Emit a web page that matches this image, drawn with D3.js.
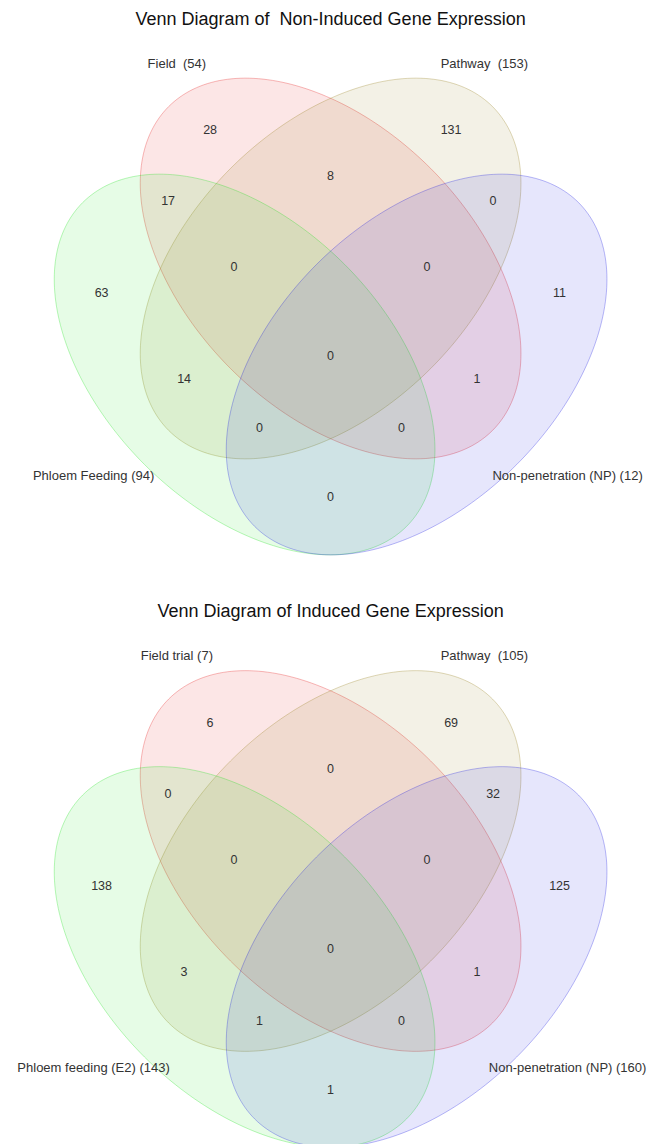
<!DOCTYPE html>
<html>
<head>
<meta charset="utf-8">
<script src="https://cdn.jsdelivr.net/npm/d3@7"></script>
<style>
  body { margin: 0; background: #fff; }
  svg text { font-family: "Liberation Sans", Arial, sans-serif; white-space: pre; }
</style>
</head>
<body>
<div id="chart"></div>
<script>
// Region keys: A = Field (red), B = Pathway (olive), C = Phloem feeding (green), D = Non-penetration (blue)
const regionKeys = ["A", "B", "C", "D", "AB", "AC", "BD", "ABC", "ABD", "ABCD", "BC", "AD", "BCD", "ACD", "CD"];

const titles = ["Venn Diagram of  Non-Induced Gene Expression", "Venn Diagram of Induced Gene Expression"];

const nonInducedLabels = ["Field  (54)", "Pathway  (153)", "Phloem Feeding (94)", "Non-penetration (NP) (12)"];
const nonInducedCounts = [28, 131, 63, 11, 8, 17, 0, 0, 0, 0, 14, 1, 0, 0, 0];

const inducedLabels = ["Field trial (7)", "Pathway  (105)", "Phloem feeding (E2) (143)", "Non-penetration (NP) (160)"];
const inducedCounts = [6, 69, 138, 125, 0, 0, 32, 0, 0, 0, 3, 1, 1, 0, 1];

const setColors = ["#e61919", "#967d19", "#19e119", "#1919e1"];

(function() {
    const width = 652, height = 1144;

    const svg = d3.select('#chart')
        .append('svg')
        .attr('width', width)
        .attr('height', height);

    svg.append('rect')
        .attr('width', width)
        .attr('height', height)
        .attr('fill', '#fff');

    // ellipse layout in unit coordinates (cx, cy, semi-major, semi-minor, rotation in degrees)
    const ellipses = [
        {cx: 0.500, cy: 0.417, a: 0.458, b: 0.283, rot: 45},   // Field
        {cx: 0.500, cy: 0.417, a: 0.458, b: 0.283, rot: -45},  // Pathway
        {cx: 0.328, cy: 0.609, a: 0.458, b: 0.283, rot: 45},   // Phloem
        {cx: 0.672, cy: 0.609, a: 0.458, b: 0.283, rot: -45}   // NP
    ];

    // where each region's count sits (unit coordinates)
    const regionPos = {
        A: [0.259, 0.140], B: [0.741, 0.140],
        AB: [0.500, 0.232],
        AC: [0.175, 0.282], BD: [0.825, 0.282],
        ABC: [0.307, 0.414], ABD: [0.693, 0.414],
        C: [0.042, 0.466], D: [0.958, 0.466],
        ABCD: [0.500, 0.592],
        BC: [0.207, 0.638], AD: [0.793, 0.638],
        BCD: [0.358, 0.736], ACD: [0.642, 0.736],
        CD: [0.500, 0.874]
    };

    const catPos = [[0.1925, 0.006], [0.8075, 0.006], [0.026, 0.830], [0.974, 0.830]];

    const panels = [
        {title: titles[0], labels: nonInducedLabels, counts: nonInducedCounts, titleY: 19, top: 60},
        {title: titles[1], labels: inducedLabels, counts: inducedCounts, titleY: 610.5, top: 652.5}
    ];

    panels.forEach(p => drawVenn(p));

    function ellipsePoints(e) {
        const th = e.rot * Math.PI / 180;
        const pts = [];
        for (let i = 0; i < 240; i++) {
            const t = i / 240 * 2 * Math.PI;
            pts.push([
                e.cx + e.a * Math.cos(t) * Math.cos(th) - e.b * Math.sin(t) * Math.sin(th),
                e.cy + e.a * Math.cos(t) * Math.sin(th) + e.b * Math.sin(t) * Math.cos(th)
            ]);
        }
        return pts;
    }

    function drawVenn(p) {
        const x = d3.scaleLinear().domain([0, 1]).range([80.6, 580.6]);
        const y = d3.scaleLinear().domain([0, 1]).range([p.top, p.top + 500]);

        const g = svg.append('g');

        const line = d3.line()
            .x(d => x(d[0]))
            .y(d => y(d[1]))
            .curve(d3.curveLinearClosed);

        // Ellipses
        g.selectAll('path.set')
            .data(ellipses)
            .enter()
            .append('path')
            .attr('class', 'set')
            .attr('d', e => line(ellipsePoints(e)))
            .attr('fill', (d, i) => setColors[i])
            .attr('fill-opacity', 0.11)
            .attr('stroke', (d, i) => setColors[i])
            .attr('stroke-opacity', 0.3)
            .attr('stroke-width', 1);

        // Title
        svg.append('text')
            .attr('x', x(0.5))
            .attr('y', p.titleY)
            .attr('dy', '0.35em')
            .attr('text-anchor', 'middle')
            .attr('font-size', 18)
            .attr('fill', '#111')
            .text(p.title);

        // Category labels
        g.selectAll('text.cat')
            .data(p.labels)
            .enter()
            .append('text')
            .attr('class', 'cat')
            .attr('x', (d, i) => x(catPos[i][0]))
            .attr('y', (d, i) => y(catPos[i][1]))
            .attr('dy', '0.35em')
            .attr('text-anchor', 'middle')
            .attr('font-size', 13)
            .attr('fill', '#333')
            .text(d => d);

        // Region counts
        g.selectAll('text.count')
            .data(p.counts)
            .enter()
            .append('text')
            .attr('class', 'count')
            .attr('x', (d, i) => x(regionPos[regionKeys[i]][0]))
            .attr('y', (d, i) => y(regionPos[regionKeys[i]][1]))
            .attr('dy', '0.35em')
            .attr('text-anchor', 'middle')
            .attr('font-size', 12.5)
            .attr('fill', '#333')
            .text(d => d);
    }
})();
</script>
</body>
</html>
